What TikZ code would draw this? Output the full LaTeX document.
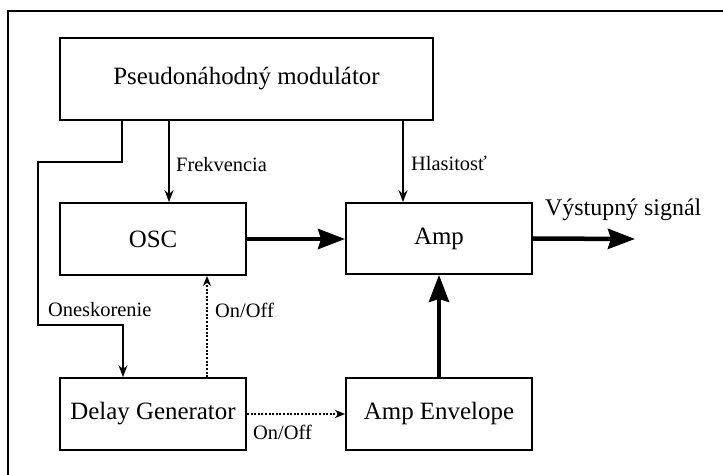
\documentclass[tikz,border=0pt]{standalone}
\usepackage{fontspec}
\setmainfont{Liberation Serif}
\usetikzlibrary{arrows.meta}
\tikzset{
  blk/.style={draw, line width=1.8bp, minimum width=186bp, minimum height=72bp, inner sep=0pt, font=\fontsize{25}{29}\selectfont},
  lbl/.style={inner sep=0pt, font=\fontsize{20.5}{24}\selectfont},
  thinarr/.style={line width=1.8bp, -{Stealth[length=12bp,width=9bp,inset=4bp]}},
  thickarr/.style={line width=4.5bp, -{Stealth[length=27bp,width=20bp,inset=3bp]}},
  dotarr/.style={line width=2.6bp, dash pattern=on 2bp off 1.6bp, -{Stealth[length=10bp,width=8bp,inset=3bp]}},
  plain/.style={line width=1.8bp}
}
\begin{document}
\begin{tikzpicture}[x=1bp,y=-1bp]
\useasboundingbox (0,0) rectangle (723,475);
\draw[line width=2bp] (8,490) -- (8,11) -- (740,11);

\node[blk, minimum width=373bp, minimum height=82bp] (mod) at (246.5,79) {Pseudonáhodný modulátor};
\node[blk] (osc) at (153,239) {OSC};
\node[blk, minimum height=71bp] (amp) at (439,238.5) {Amp};
\node[blk] (dly) at (153,414) {Delay Generator};
\node[blk] (env) at (439,414) {Amp Envelope};

\coordinate (fin) at ([xshift=16bp]osc.north);
\coordinate (hin) at ([xshift=-36bp]amp.north);
\coordinate (din) at ([xshift=-30bp]dly.north);
\coordinate (dout) at ([xshift=54bp]dly.north);
\coordinate (out) at (635,239);

\draw[thinarr] (mod.south -| fin) -- (fin);
\draw[thinarr] (mod.south -| hin) -- (hin);
\draw[thinarr] (mod.south -| 122,0) -- (122,162) -- (38,162) -- (38,325) -- (din |- 0,325) -- (din);
\draw[thickarr] (osc.east) -- (osc.east -| amp.west);
\draw[thickarr] (amp.east) -- (out);
\draw[thickarr] (env.north) -- (amp.south);
\draw[dotarr] (dout) -- (dout |- osc.south);
\draw[dotarr] (dly.east) -- (env.west);

\node[lbl, anchor=west] (lf) at (176,165) {Frekvencia};
\node[lbl, anchor=west] (lh) at (411,163) {Hlasitosť};
\node[lbl, anchor=west] (lo) at (48,310) {Oneskorenie};
\node[lbl, anchor=west] (l1) at (215,310) {On/Off};
\node[lbl, anchor=west] (l2) at (253,432) {On/Off};
\node[inner sep=0pt, anchor=west, font=\fontsize{24}{28}\selectfont] (ls) at (545,210) {Výstupný signál};
\end{tikzpicture}
\end{document}
